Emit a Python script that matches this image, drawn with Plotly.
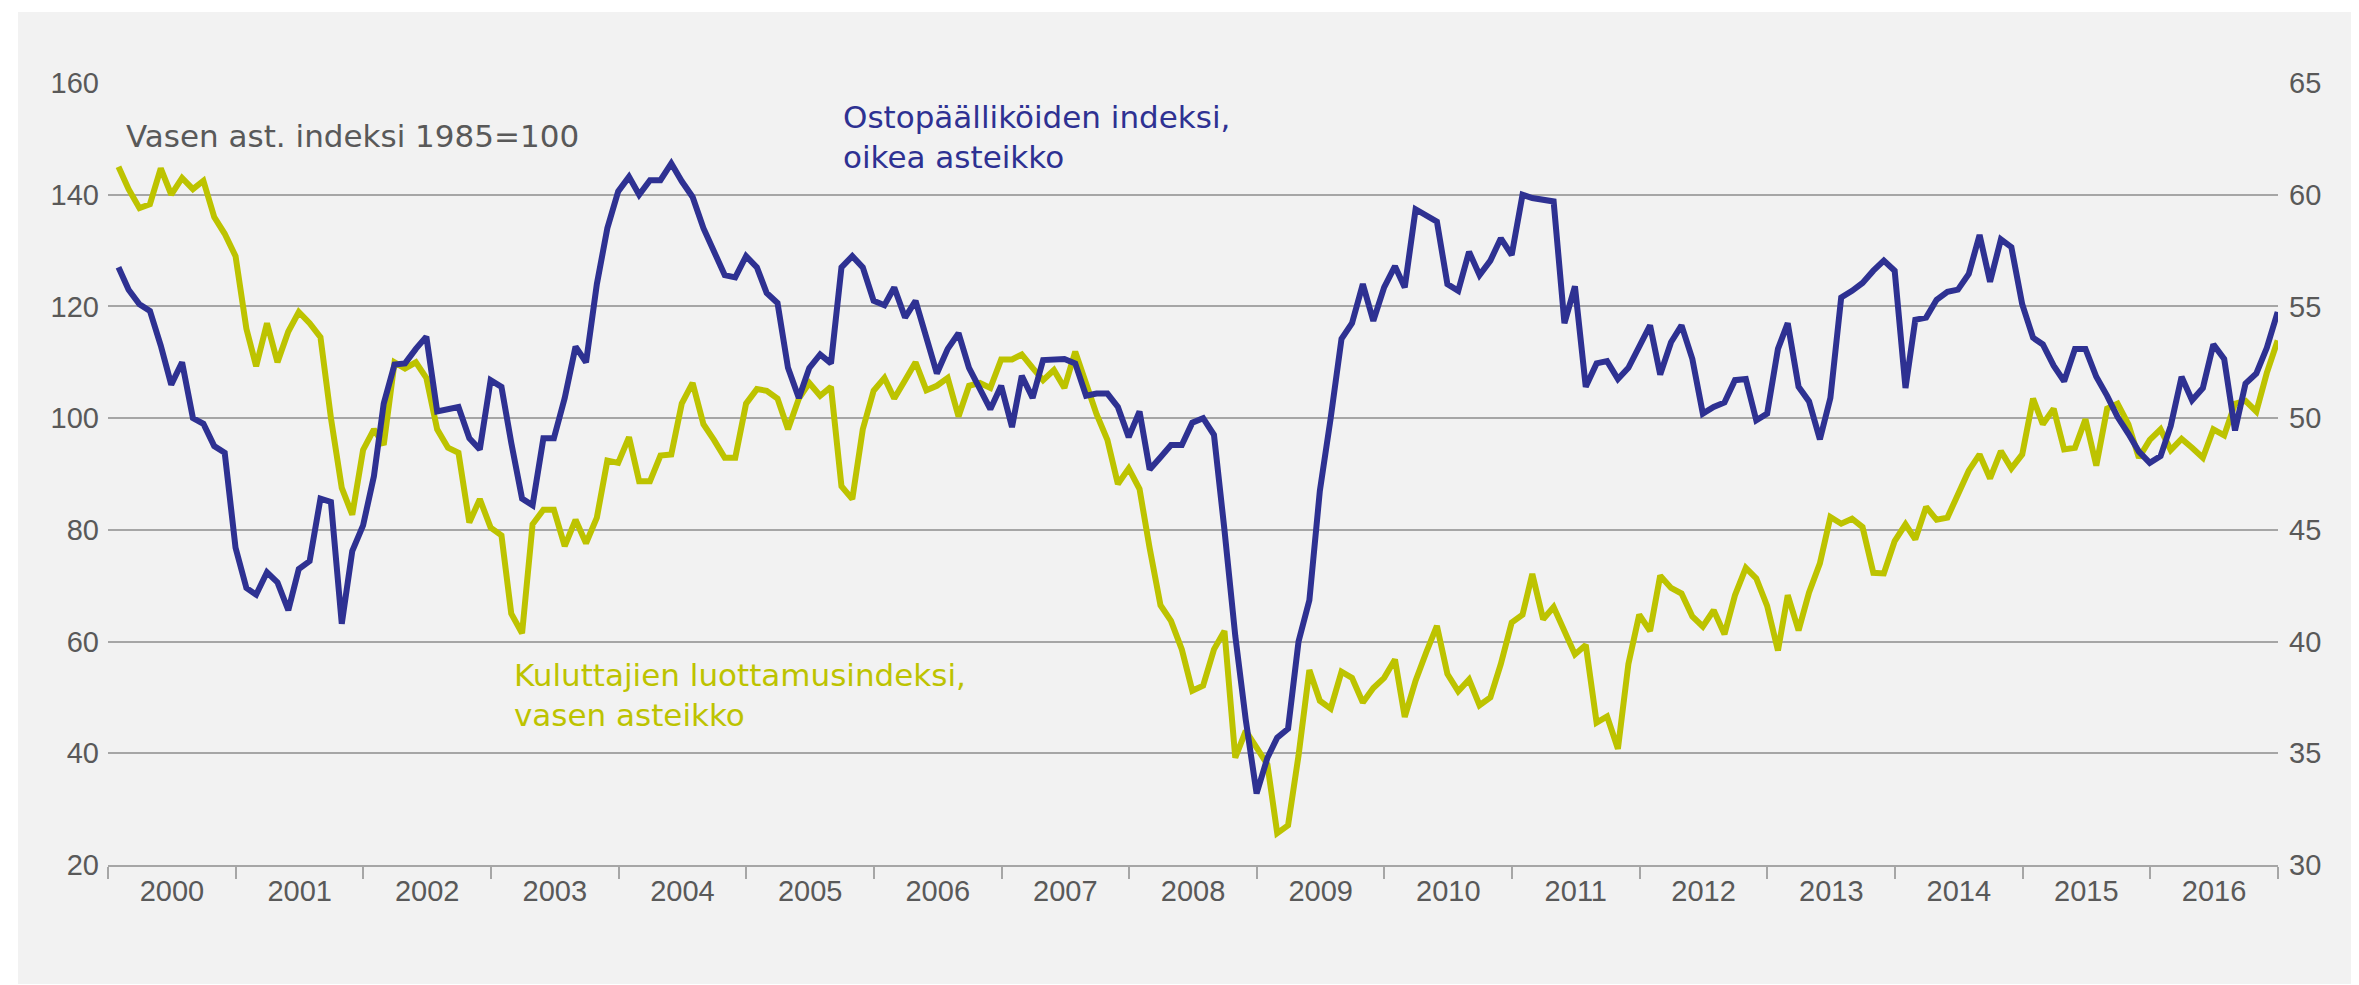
import calendar
import plotly.graph_objects as go

# ---- categories: monthly observations Jan 2000 .. Dec 2016 (month-end dates)
years = list(range(2000, 2017))
months = [f"{y}-{m:02d}-{calendar.monthrange(y, m)[1]}" for y in years for m in range(1, 13)]

# ---- Kuluttajien luottamusindeksi (left axis, 1985=100)
consumer = [
    145, 141, 137.6, 138.3, 144.7, 140, 143, 141, 142.5, 136, 133, 129,
    116, 109.3, 117, 110, 115.5, 119, 117, 114.5, 100, 87.5, 82.7, 94.3,
    98, 95.2, 110, 108.9, 110, 107.2, 98, 94.7, 93.8, 81.3, 85.5, 80.4,
    79, 65, 61.5, 81, 83.6, 83.6, 77.1, 81.8, 77.6, 82.2, 92.4, 92,
    96.6, 88.7, 88.7, 93.3, 93.5, 102.6, 106.3, 98.9, 96.1, 92.9, 92.9, 102.6,
    105.2, 104.9, 103.5, 98, 103.5, 106.3, 104, 105.6, 87.8, 85.5, 98, 104.9,
    107.2, 103.5, 106.8, 110, 105, 105.8, 107.2, 100.3, 105.8, 106.3, 105.4, 110.5,
    110.5, 111.4, 109, 106.8, 108.6, 105.4, 111.9, 105.8, 100.7, 96.1, 88.2, 91,
    87.3, 76.7, 66.5, 63.7, 58.6, 51.2, 52.1, 58.6, 61.9, 39.2, 44, 41,
    38, 25.7, 27.1, 39.6, 54.9, 49.4, 48, 54.6, 53.5, 49.1, 51.7, 53.5,
    56.8, 46.5, 53, 58, 62.8, 54.2, 51.1, 53.2, 48.6, 50, 56, 63.4,
    64.8, 72.1, 64, 66.2, 62, 57.7, 59.4, 45.5, 46.6, 40.8, 56, 64.8,
    61.9, 71.8, 69.6, 68.6, 64.5, 62.7, 65.6, 61.3, 68.3, 73.2, 71.3, 66.4,
    58.4, 68.3, 62, 68.8, 74, 82.3, 81.1, 82, 80.5, 72.3, 72.2, 78,
    81, 78.3, 84.1, 81.8, 82.2, 86.4, 90.6, 93.5, 89.2, 94.1, 91, 93.5,
    103.5, 98.9, 101.7, 94.4, 94.7, 99.8, 91.5, 101.7, 102.6, 98.9, 92.9, 96.1,
    98, 94.3, 96.3, 94.7, 92.9, 98, 96.9, 102.6, 103.1, 101.2, 108.1, 113.9,
]

# ---- Ostopäälliköiden indeksi (right axis)
pmi = [
    56.75, 55.75, 55.1, 54.8, 53.25, 51.5, 52.5, 50, 49.75, 48.75, 48.45, 44.2,
    42.4, 42.1, 43.1, 42.65, 41.4, 43.25, 43.6, 46.4, 46.25, 40.8, 44.05, 45.2,
    47.4, 50.65, 52.4, 52.45, 53.1, 53.65, 50.3, 50.4, 50.5, 49.1, 48.6, 51.7,
    51.4, 48.9, 46.4, 46.1, 49.1, 49.1, 50.9, 53.2, 52.5, 56, 58.5, 60.15,
    60.8, 60, 60.65, 60.65, 61.4, 60.6, 59.9, 58.5, 57.5, 56.4, 56.3, 57.25,
    56.75, 55.6, 55.15, 52.25, 50.9, 52.25, 52.85, 52.45, 56.75, 57.25, 56.75, 55.25,
    55.05, 55.85, 54.5, 55.25, 53.6, 52, 53.1, 53.8, 52.25, 51.35, 50.4, 51.45,
    49.6, 51.9, 50.9, 52.6, 52.6, 52.65, 52.45, 51, 51.1, 51.1, 50.5, 49.15,
    50.3, 47.7, 48.25, 48.8, 48.8, 49.8, 50, 49.25, 45, 40.25, 36.5, 33.2,
    34.8, 35.7, 36.1, 40, 41.85, 46.75, 50, 53.55, 54.25, 56, 54.35, 55.85,
    56.8, 55.85, 59.35, 59.05, 58.8, 56, 55.7, 57.45, 56.4, 57.05, 58.05, 57.3,
    60, 59.85, 59.75, 59.7, 54.25, 55.9, 51.4, 52.45, 52.55, 51.75, 52.25, 53.2,
    54.15, 51.95, 53.4, 54.15, 52.65, 50.2, 50.5, 50.7, 51.7, 51.75, 49.9, 50.2,
    53.1, 54.25, 51.4, 50.75, 49.05, 50.9, 55.4, 55.7, 56.05, 56.6, 57.05, 56.6,
    51.35, 54.4, 54.5, 55.3, 55.65, 55.75, 56.45, 58.2, 56.1, 58, 57.65, 55.1,
    53.6, 53.3, 52.35, 51.65, 53.1, 53.1, 51.85, 51, 50.05, 49.3, 48.5, 48,
    48.3, 49.65, 51.85, 50.8, 51.35, 53.3, 52.65, 49.45, 51.55, 52, 53.15, 54.75,
]

left_ticks = [20, 40, 60, 80, 100, 120, 140, 160]
right_ticks = [30, 35, 40, 45, 50, 55, 60, 65]

label_note = "Vasen ast. indeksi 1985=100"
label_pmi = "Ostopäälliköiden indeksi,<br>oikea asteikko"
label_cons = "Kuluttajien luottamusindeksi,<br>vasen asteikko"

BLUE = "#2E3192"
GREEN = "#BDC300"
GRID = "#A6A6A6"
TXT = "#595959"
BG = "#F2F2F2"

W, H = 2359, 985
L, R, T, B = 100, 89, 75, 128
pw, ph = W - L - R, H - T - B


def px_x(p):
    return (p - L) / pw


def px_y(p):
    return (H - B - p) / ph


fig = go.Figure()
fig.add_trace(go.Scatter(x=months, y=consumer, mode="lines", yaxis="y",
                         line=dict(color=GREEN, width=6), showlegend=False,
                         name="Kuluttajien luottamusindeksi"))
fig.add_trace(go.Scatter(x=months, y=pmi, mode="lines", yaxis="y2",
                         line=dict(color=BLUE, width=6), showlegend=False,
                         name="Ostopäälliköiden indeksi"))

tickfont = dict(family="Liberation Sans, Arial, sans-serif", size=29, color=TXT)

fig.update_layout(
    width=W, height=H,
    margin=dict(l=L, r=R, t=T, b=B, autoexpand=False),
    paper_bgcolor="white",
    plot_bgcolor="rgba(0,0,0,0)",
    xaxis=dict(type="date", range=["2000-01-01", "2017-01-01"],
               tick0="2000-01-01", dtick="M12", tickformat="%Y",
               ticklabelmode="period", ticks="outside", ticklen=12,
               tickwidth=1.5, tickcolor=GRID, showline=True, linecolor=GRID,
               linewidth=1.5, showgrid=False, zeroline=False, tickfont=tickfont,
               ticklabelstandoff=-13),
    yaxis=dict(range=[20, 160], tickvals=left_ticks, showgrid=True,
               gridcolor=GRID, gridwidth=1.5, zeroline=False, showline=False,
               ticks="", tickfont=tickfont, ticklabelstandoff=8),
    yaxis2=dict(range=[30, 65], tickvals=right_ticks, overlaying="y",
                side="right", showgrid=False, zeroline=False, showline=False,
                ticks="", tickfont=tickfont, ticklabelstandoff=10),
    shapes=[dict(type="rect", xref="paper", yref="paper", layer="below",
                 x0=px_x(10), x1=px_x(2346), y0=px_y(976), y1=px_y(4),
                 fillcolor=BG, line=dict(width=0))],
    annotations=[
        dict(text=label_note, xref="paper", yref="paper", x=px_x(116), y=px_y(128),
             xanchor="left", yanchor="middle", showarrow=False, align="left",
             font=dict(family="DejaVu Sans, sans-serif", size=31, color=TXT)),
        dict(text=label_pmi, xref="paper", yref="paper", x=px_x(833), y=px_y(129),
             xanchor="left", yanchor="middle", showarrow=False, align="left",
             font=dict(family="DejaVu Sans, sans-serif", size=31, color=BLUE)),
        dict(text=label_cons, xref="paper", yref="paper", x=px_x(504), y=px_y(687),
             xanchor="left", yanchor="middle", showarrow=False, align="left",
             font=dict(family="DejaVu Sans, sans-serif", size=31, color=GREEN)),
    ],
)

fig.write_html("out.html")
